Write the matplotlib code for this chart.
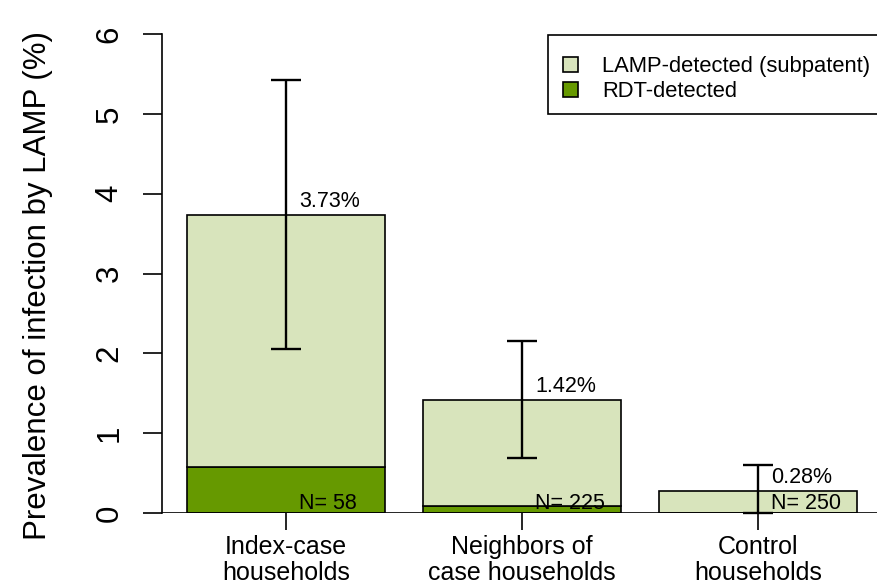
import matplotlib
matplotlib.use('Agg')
import matplotlib.pyplot as plt
import matplotlib.patches as mpatches

plt.rcParams['font.family'] = ['Liberation Sans', 'DejaVu Sans']

# Data
groups = ['Index-case\nhouseholds', 'Neighbors of\ncase households', 'Control\nhouseholds']
total_prev = [3.73, 1.42, 0.28]        # LAMP-detected prevalence (%)
rdt_prev = [0.58, 0.09, 0.0]           # RDT-detected part (%)
ci_low = [2.05, 0.69, 0.0]
ci_high = [5.42, 2.16, 0.60]
n_sizes = [58, 225, 250]

light_green = '#D8E4BC'
dark_green = '#669900'

fig = plt.figure(figsize=(8.77, 5.87), dpi=100)
ax = fig.add_axes([162 / 877, 74 / 587, 1 - 162 / 877, 479 / 587])

x = list(range(len(groups)))
width = 0.84

# Stacked bars: subpatent part on top of RDT-detected part
subpatent = [t - r for t, r in zip(total_prev, rdt_prev)]
ax.bar(x, rdt_prev, width=width, color=dark_green, edgecolor='black', linewidth=1.2, zorder=2)
ax.bar(x, subpatent, bottom=rdt_prev, width=width, color=light_green,
       edgecolor='black', linewidth=1.2, zorder=2)

# Confidence intervals
err_low = [t - l for t, l in zip(total_prev, ci_low)]
err_high = [h - t for t, h in zip(total_prev, ci_high)]
ax.errorbar(x, total_prev, yerr=[err_low, err_high], fmt='none', ecolor='black',
            elinewidth=1.7, capsize=11, capthick=1.7, zorder=3, clip_on=False)

# Value and sample size labels
for xi, t, n in zip(x, total_prev, n_sizes):
    ax.text(xi + 0.055, t + 0.1, f'{t:.2f}%', ha='left', va='baseline', fontsize=15.5)
    ax.text(xi + 0.055, 0.05, f'N= {n}', ha='left', va='baseline', fontsize=15.5, zorder=4)

ax.axhline(0, color='black', linewidth=1.2, zorder=3)

ax.set_xlim(-0.525, 2.504)
ax.set_ylim(0, 6)
ax.set_yticks([0, 1, 2, 3, 4, 5, 6])
ax.set_xticks(x)
ax.set_xticklabels(groups, fontsize=18, linespacing=1.1)

for lbl in ax.get_yticklabels():
    lbl.set_rotation(90)
    lbl.set_va('center')
ax.tick_params(axis='y', length=14, width=1.2, pad=13, labelsize=22.5)
ax.tick_params(axis='x', length=12, width=1.2, pad=4)

for side in ['top', 'right', 'bottom']:
    ax.spines[side].set_visible(False)
ax.spines['left'].set_bounds(0, 6)
ax.spines['left'].set_linewidth(1.2)

fig.text(38 / 877, 1 - 285 / 587, 'Prevalence of infection by LAMP (%)', rotation=90,
         ha='center', va='center', fontsize=22.5)

# Legend box drawn separately so the padding matches the original
box = mpatches.Rectangle((548 / 877, 1 - 114 / 587), 0.5, 79 / 587, transform=fig.transFigure,
                         facecolor='white', edgecolor='black', linewidth=1.2, zorder=5)
fig.patches.append(box)

handles = [mpatches.Patch(facecolor=light_green, edgecolor='black', linewidth=1.2),
           mpatches.Patch(facecolor=dark_green, edgecolor='black', linewidth=1.2)]
leg = fig.legend(handles, ['LAMP-detected (subpatent)', 'RDT-detected'],
                 loc='upper left', bbox_to_anchor=(563 / 877, 1 - 56 / 587),
                 bbox_transform=fig.transFigure, borderaxespad=0, borderpad=0, fontsize=15.8,
                 handlelength=0.7, handleheight=0.7, handletextpad=1.1,
                 labelspacing=0.2, frameon=False)
leg.set_zorder(6)

fig.patch.set_facecolor('white')
plt.savefig('out.png', dpi=100, facecolor='white')
plt.close(fig)
